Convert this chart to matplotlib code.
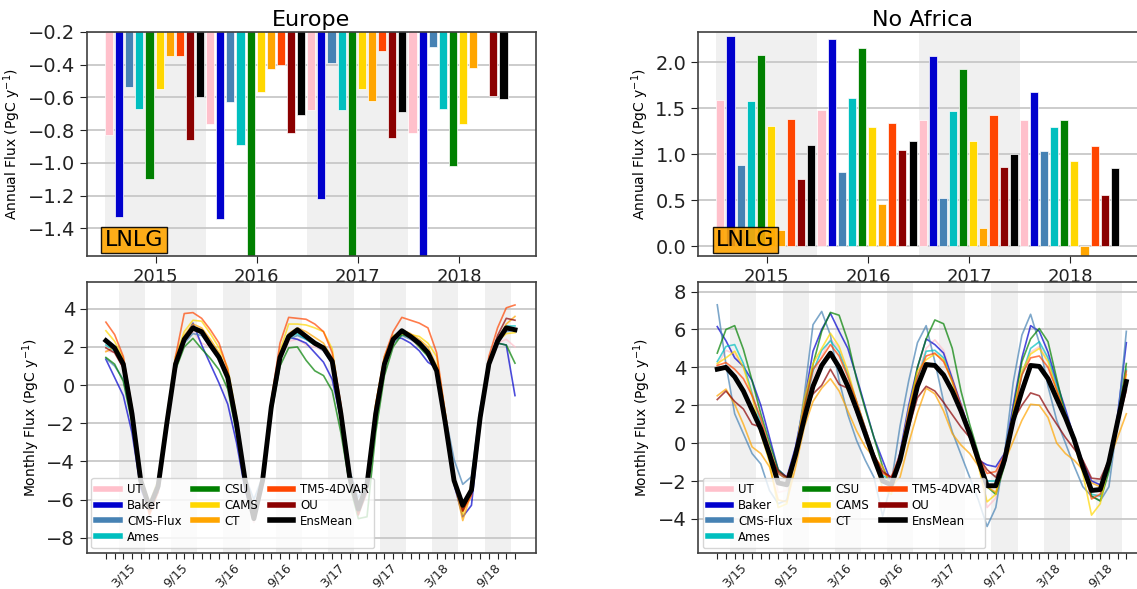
import matplotlib
matplotlib.use('Agg')
import matplotlib.pyplot as plt
import numpy as np

# models / colours
models = ['UT', 'Baker', 'CMS-Flux', 'Ames', 'CSU', 'CAMS', 'CT', 'TM5-4DVAR', 'OU', 'EnsMean']
colors = ['pink', 'mediumblue', 'steelblue', 'c', 'green', 'gold', 'orange',
          'orangered', 'darkred', 'black']
years = [2015, 2016, 2017, 2018]
month_labels = ['3/15', '9/15', '3/16', '9/16', '3/17', '9/17', '3/18', '9/18']

# annual fluxes (PgC/y), one value per year
eu_annual_ut = [-0.83, -0.76, -0.68, -0.82]
eu_annual_baker = [-1.33, -1.34, -1.22, -1.70]
eu_annual_cms = [-0.54, -0.63, -0.39, -0.29]
eu_annual_ames = [-0.67, -0.89, -0.68, -0.67]
eu_annual_csu = [-1.10, -1.65, -1.75, -1.02]
eu_annual_cams = [-0.55, -0.57, -0.55, -0.76]
eu_annual_ct = [-0.35, -0.43, -0.62, -0.42]
eu_annual_tm5 = [-0.35, -0.40, -0.32, -0.15]
eu_annual_ou = [-0.86, -0.82, -0.85, -0.59]
eu_annual_ens = [-0.60, -0.71, -0.69, -0.61]

na_annual_ut = [1.59, 1.48, 1.37, 1.37]
na_annual_baker = [2.28, 2.25, 2.07, 1.68]
na_annual_cms = [0.88, 0.81, 0.52, 1.03]
na_annual_ames = [1.58, 1.61, 1.47, 1.30]
na_annual_csu = [2.08, 2.15, 1.93, 1.37]
na_annual_cams = [1.31, 1.29, 1.14, 0.92]
na_annual_ct = [0.17, 0.46, 0.20, -0.15]
na_annual_tm5 = [1.38, 1.34, 1.43, 1.09]
na_annual_ou = [0.73, 1.04, 0.86, 0.56]
na_annual_ens = [1.10, 1.14, 1.00, 0.85]

# monthly fluxes (PgC/y), Jan 2015 - Dec 2018
eu_ut = [1.8, 1.7, 0.9, -1.7, -5.1, -6.6, -5.4, -2.0, 1.0, 2.3, 2.8, 2.2,
         2.0, 1.5, 0.4, -2.0, -5.2, -7.2, -5.1, -1.2, 1.4, 2.3, 2.4, 2.1,
         2.0, 1.8, 1.2, -1.6, -4.9, -6.6, -5.4, -1.6, 1.0, 2.3, 2.7, 2.4,
         2.0, 1.6, 0.7, -2.0, -5.0, -6.5, -5.6, -1.8, 1.0, 2.2, 2.4, 2.0]
eu_baker = [1.35, 0.4, -0.55, -2.5, -5.4, -6.6, -5.6, -2.2, 1.0, 2.4, 3.25, 2.1,
            1.1, 0.1, -1.0, -3.0, -5.5, -7.0, -5.0, -1.2, 1.4, 2.5, 2.4, 2.2,
            1.7, 1.2, 0.3, -1.8, -5.0, -6.6, -5.4, -1.5, 1.2, 2.5, 2.45, 2.2,
            1.8, 1.2, 0.9, -2.3, -5.2, -6.9, -6.3, -2.0, 1.0, 2.2, 2.1, -0.55]
eu_cms = [1.4, 1.0, 0.3, -1.8, -5.0, -6.2, -5.0, -1.8, 1.0, 2.2, 2.7, 2.6,
          2.0, 1.4, 0.4, -1.7, -4.8, -6.0, -4.8, -1.0, 1.4, 2.4, 2.6, 2.4,
          2.1, 1.8, 1.1, -1.4, -4.5, -5.9, -5.0, -1.3, 1.0, 2.2, 2.6, 2.4,
          2.1, 1.6, 0.8, -1.6, -3.9, -5.2, -4.8, -1.2, 1.0, 2.2, 2.8, 2.9]
eu_ames = [2.1, 1.8, 1.0, -1.6, -5.0, -6.5, -5.3, -1.9, 1.1, 2.4, 2.9, 2.7,
           2.1, 1.5, 0.4, -2.0, -5.0, -7.0, -5.0, -1.1, 1.5, 2.5, 2.7, 2.4,
           2.1, 1.9, 1.2, -1.5, -4.8, -6.5, -5.2, -1.5, 1.1, 2.4, 2.8, 2.5,
           2.1, 1.6, 0.7, -2.0, -5.0, -6.4, -5.5, -1.6, 1.1, 2.3, 3.1, 3.1]
eu_csu = [1.45, 1.1, 0.2, -2.0, -5.0, -6.3, -5.2, -2.2, 0.8, 2.0, 2.45, 1.9,
          1.4, 0.8, -0.2, -2.5, -5.2, -7.0, -5.0, -1.5, 1.0, 1.95, 2.0, 1.3,
          0.75, 0.5, -0.3, -2.5, -5.2, -7.0, -6.9, -2.5, 0.5, 2.0, 2.65, 2.5,
          2.0, 1.5, 0.9, -1.8, -5.0, -6.5, -5.5, -1.8, 1.0, 2.2, 2.1, 1.15]
eu_cams = [2.85, 2.3, 1.4, -1.2, -4.8, -6.2, -5.0, -1.6, 1.5, 2.8, 3.4, 3.35,
           2.7, 1.95, 0.9, -1.6, -4.8, -6.8, -4.8, -0.8, 1.8, 3.2, 3.2, 3.15,
           3.0, 2.8, 1.9, -1.2, -4.6, -6.3, -5.0, -1.0, 1.5, 2.6, 2.7, 2.65,
           2.55, 2.2, 1.5, -1.5, -4.8, -6.8, -5.2, -1.4, 1.3, 2.3, 2.7, 2.75]
eu_ct = [1.75, 2.0, 1.2, -1.4, -5.0, -6.6, -5.5, -1.8, 1.3, 2.6, 3.2, 3.0,
         2.4, 1.7, 0.6, -1.8, -5.0, -7.0, -5.0, -1.0, 1.6, 2.7, 3.0, 2.8,
         2.5, 2.2, 1.4, -1.3, -4.8, -6.6, -5.3, -1.3, 1.2, 2.5, 2.9, 2.7,
         2.4, 2.0, 1.0, -1.8, -5.0, -7.1, -5.6, -1.6, 1.2, 2.4, 3.2, 3.6]
eu_tm5 = [3.3, 2.65, 1.5, -1.2, -5.0, -6.8, -5.6, -2.0, 1.5, 3.75, 3.8, 3.5,
          2.9, 2.2, 0.8, -1.8, -5.0, -7.0, -5.0, -0.8, 2.2, 3.55, 3.5, 3.45,
          3.2, 2.8, 1.7, -1.0, -4.8, -6.8, -5.3, -1.0, 1.5, 2.8, 3.55, 3.4,
          3.25, 3.0, 1.7, -1.5, -4.8, -6.6, -5.8, -1.8, 1.5, 3.0, 4.05, 4.2]
eu_ou = [1.95, 1.7, 0.9, -1.6, -5.2, -6.5, -5.4, -2.0, 1.0, 2.3, 2.9, 2.7,
         2.0, 1.4, 0.3, -2.1, -5.1, -7.0, -5.0, -1.2, 1.4, 2.5, 2.8, 2.5,
         2.1, 1.9, 1.2, -1.6, -4.9, -6.8, -5.6, -1.6, 1.0, 2.3, 2.8, 2.5,
         2.1, 1.6, 0.7, -2.1, -5.1, -6.6, -5.5, -1.6, 1.1, 2.6, 3.5, 3.4]
eu_ens = [2.33, 1.95, 1.1, -1.5, -5.0, -6.4, -5.3, -2.0, 1.1, 2.4, 3.0, 2.8,
          2.1, 1.45, 0.4, -2.0, -5.0, -7.0, -5.0, -1.15, 1.45, 2.55, 2.9, 2.55,
          2.2, 1.95, 1.25, -1.5, -4.8, -6.5, -5.2, -1.5, 1.1, 2.4, 2.85, 2.55,
          2.2, 1.7, 0.75, -2.0, -5.0, -6.3, -5.5, -1.7, 1.1, 2.3, 3.0, 2.9]

na_ut = [4.1, 4.9, 4.7, 4.0, 2.7, 1.2, -0.5, -2.6, -2.5, -0.8, 1.6, 3.5,
         4.6, 5.5, 5.0, 3.7, 2.2, 0.8, -0.7, -2.0, -2.3, -0.9, 1.6, 3.6,
         5.0, 5.45, 4.9, 3.5, 2.0, 0.6, -1.0, -3.4, -2.9, -1.0, 1.5, 3.6,
         4.8, 5.1, 4.4, 3.0, 1.7, 0.3, -1.3, -2.8, -2.7, -1.2, 1.2, 3.4]
na_baker = [6.15, 5.4, 4.5, 4.05, 3.3, 2.0, 0.3, -1.4, -1.8, -0.2, 2.2, 4.85,
            6.0, 6.85, 5.9, 5.0, 3.5, 1.9, 0.3, -0.9, -2.1, -0.5, 2.0, 4.0,
            5.5, 5.2, 4.75, 3.4, 2.05, 0.65, -0.9, -1.15, -1.25, -0.55, 2.0, 4.5,
            6.2, 5.9, 4.8, 3.2, 1.8, 0.3, -1.0, -2.0, -2.2, -1.2, 1.5, 5.3]
na_cms = [7.3, 4.15, 1.55, 0.5, -0.55, -1.1, -2.5, -3.2, -3.0, -0.55, 2.55, 6.25,
          6.95, 5.7, 3.3, 1.5, 0.15, -0.9, -1.8, -3.85, -2.1, 0.9, 3.3, 5.3,
          6.2, 4.3, 2.2, 0.6, -0.6, -1.8, -3.0, -4.4, -3.4, -0.6, 3.2, 5.7,
          6.8, 5.3, 3.0, 1.2, 0.0, -1.2, -2.3, -2.8, -3.05, -2.3, 1.2, 5.9]
na_ames = [4.3, 5.1, 5.2, 4.2, 2.6, 1.0, -0.5, -1.6, -1.9, -0.5, 1.8, 3.8,
           4.9, 5.4, 4.8, 3.6, 2.2, 0.8, -0.6, -1.7, -2.0, -0.8, 1.5, 3.4,
           4.85, 4.9, 4.5, 3.3, 1.8, 0.5, -0.8, -2.0, -2.0, -0.8, 1.5, 3.6,
           5.0, 5.35, 4.5, 3.0, 1.6, 0.3, -1.2, -2.7, -2.8, -1.3, 1.2, 3.9]
na_csu = [4.75, 6.0, 6.2, 4.95, 3.3, 1.55, 0.0, -1.4, -1.85, -0.55, 1.9, 4.15,
          5.9, 6.9, 6.75, 5.4, 3.4, 1.8, 0.3, -1.25, -2.3, -1.0, 1.5, 4.0,
          5.5, 6.5, 6.3, 5.0, 2.75, 1.0, -0.55, -2.3, -2.7, -1.2, 1.7, 4.3,
          5.5, 6.05, 5.35, 3.4, 1.5, 0.1, -1.25, -2.8, -3.05, -1.5, 1.2, 4.2]
na_cams = [4.2, 4.5, 4.85, 4.0, 2.5, 0.5, -1.0, -3.4, -3.2, -0.5, 2.3, 4.2,
           5.0, 5.8, 5.1, 3.8, 2.2, 0.7, -0.8, -2.4, -2.7, -0.8, 1.8, 3.8,
           4.4, 4.7, 4.4, 3.2, 1.8, 0.3, -1.2, -3.1, -2.7, -0.8, 1.6, 3.8,
           4.7, 5.0, 4.3, 2.8, 1.4, 0.0, -1.6, -3.8, -3.2, -1.0, 1.2, 3.6]
na_ct = [2.5, 2.85, 2.05, 1.0, -0.2, -0.55, -1.25, -3.0, -3.1, -1.25, 0.85, 2.2,
         2.9, 3.4, 2.75, 1.7, 0.65, -0.2, -0.75, -1.25, -2.3, -1.8, 0.0, 1.6,
         2.9, 2.6, 1.7, 0.5, -0.1, -0.55, -1.2, -2.3, -2.6, -1.0, 0.1, 1.2,
         2.05, 2.0, 1.35, 0.0, -0.55, -0.9, -1.4, -2.1, -2.3, -0.9, 0.3, 1.55]
na_tm5 = [4.1, 4.25, 3.9, 3.4, 2.5, 1.3, -0.3, -1.6, -1.9, -0.4, 1.9, 3.9,
          4.5, 5.2, 4.6, 3.5, 2.2, 0.8, -0.6, -1.6, -1.8, -0.6, 1.6, 3.5,
          4.6, 4.75, 4.3, 3.3, 2.0, 0.6, -0.8, -1.6, -1.5, -0.6, 1.5, 3.6,
          4.5, 4.6, 4.0, 2.8, 1.5, 0.2, -1.2, -2.95, -2.7, -1.2, 1.2, 3.8]
na_ou = [2.3, 2.75, 2.2, 1.8, 1.0, 0.85, -0.55, -1.5, -1.8, -0.55, 1.5, 2.6,
         3.05, 3.9, 3.1, 2.9, 1.6, 0.4, -0.6, -1.5, -1.8, -0.9, 0.8, 2.4,
         3.0, 2.75, 2.15, 1.5, 0.85, 0.3, -0.75, -1.4, -1.8, -0.7, 1.2, 2.0,
         2.65, 2.5, 1.7, 1.0, 0.3, -0.3, -0.9, -1.85, -1.9, -0.9, 1.0, 2.8]
na_ens = [3.9, 4.0, 3.5, 2.75, 1.75, 0.75, -0.6, -2.1, -2.2, -0.6, 1.3, 3.0,
          4.1, 4.75, 4.0, 3.0, 1.8, 0.5, -0.8, -2.0, -2.2, -0.9, 1.1, 3.0,
          4.15, 4.1, 3.6, 2.75, 1.7, 0.5, -0.9, -2.25, -2.25, -0.9, 1.2, 2.75,
          4.1, 4.05, 3.4, 2.35, 1.35, 0.2, -1.25, -2.5, -2.45, -1.0, 1.15, 3.25]

eu_annual = [eu_annual_ut, eu_annual_baker, eu_annual_cms, eu_annual_ames, eu_annual_csu,
             eu_annual_cams, eu_annual_ct, eu_annual_tm5, eu_annual_ou, eu_annual_ens]
na_annual = [na_annual_ut, na_annual_baker, na_annual_cms, na_annual_ames, na_annual_csu,
             na_annual_cams, na_annual_ct, na_annual_tm5, na_annual_ou, na_annual_ens]
eu_monthly = [eu_ut, eu_baker, eu_cms, eu_ames, eu_csu, eu_cams, eu_ct, eu_tm5, eu_ou, eu_ens]
na_monthly = [na_ut, na_baker, na_cms, na_ames, na_csu, na_cams, na_ct, na_tm5, na_ou, na_ens]

SHADE = '#f0f0f0'
GRID = '#c4c4c4'


def style_axes(ax):
    ax.set_axisbelow(True)
    ax.yaxis.grid(True, color=GRID, linewidth=1.2)
    for spine in ax.spines.values():
        spine.set_edgecolor('#404040')
        spine.set_linewidth(1.2)
    ax.tick_params(axis='y', labelsize=14, length=5, colors='#222222')


def draw_annual(ax, values, title, ylim, yticks):
    yr = np.array(years, dtype=float)
    for y0 in (2014.5, 2016.5):
        ax.axvspan(y0, y0 + 1, color=SHADE, zorder=0, lw=0)
    for i, vals in enumerate(values):
        ax.bar(yr - 0.5 + 0.1 * i, vals, width=0.08, align='edge',
               color=colors[i], edgecolor='white', linewidth=0.5, zorder=2)
    ax.set_xlim(2014.32, 2018.76)
    ax.set_ylim(*ylim)
    ax.set_yticks(yticks)
    ax.set_xticks(years)
    ax.tick_params(axis='x', labelsize=13, length=5, colors='#222222')
    ax.set_title(title, fontsize=16, pad=4)
    ax.set_ylabel('Annual Flux (PgC y$^{-1}$)', fontsize=10, labelpad=3)
    style_axes(ax)
    ax.text(0.04, 0.045, 'LNLG', transform=ax.transAxes, fontsize=16, zorder=5,
            bbox=dict(boxstyle='square,pad=0.15', facecolor='orange', alpha=0.9,
                      edgecolor='black'))


def draw_monthly(ax, values, ylim, yticks):
    months = np.arange(48)
    for k in range(4):
        ax.axvspan(12 * k + 1.5, 12 * k + 4.5, color=SHADE, zorder=0, lw=0)
        ax.axvspan(12 * k + 7.5, 12 * k + 10.5, color=SHADE, zorder=0, lw=0)
    for i, vals in enumerate(values):
        if models[i] == 'EnsMean':
            ax.plot(months, vals, color='black', lw=3.5, label=models[i], zorder=4)
        else:
            ax.plot(months, vals, color=colors[i], lw=1.2, alpha=0.7,
                    label=models[i], zorder=3)
    ax.set_xlim(-2.2, 49.4)
    ax.set_ylim(*ylim)
    ax.set_yticks(yticks)
    ax.set_xticks(months)
    lbls = [''] * 48
    for j, lab in enumerate(month_labels):
        lbls[2 + 6 * j] = lab
    ax.set_xticklabels(lbls, rotation=45, fontsize=9)
    ax.tick_params(axis='x', length=4, pad=2, colors='#222222')
    ax.set_ylabel('Monthly Flux (PgC y$^{-1}$)', fontsize=10, labelpad=3)
    style_axes(ax)
    leg = ax.legend(loc='lower left', ncol=3, fontsize=8.5, handlelength=2.0,
                    handletextpad=0.6, columnspacing=1.0, labelspacing=0.25,
                    borderaxespad=0.4)
    for line in leg.get_lines():
        line.set_linewidth(4)
        line.set_alpha(1)


fig = plt.figure(figsize=(11.37, 5.89), dpi=100)

ax_tl = fig.add_axes([0.0763, 0.565, 0.395, 0.381])
ax_bl = fig.add_axes([0.0763, 0.0611, 0.395, 0.460])
ax_tr = fig.add_axes([0.614, 0.565, 0.395, 0.381])
ax_br = fig.add_axes([0.614, 0.0611, 0.395, 0.460])

draw_annual(ax_tl, eu_annual, 'Europe', (-1.57, -0.2), np.arange(-1.4, -0.19, 0.2))
draw_annual(ax_tr, na_annual, 'No Africa', (-0.11, 2.33), [0.0, 0.5, 1.0, 1.5, 2.0])
draw_monthly(ax_bl, eu_monthly, (-8.8, 5.4), [-8, -6, -4, -2, 0, 2, 4])
draw_monthly(ax_br, na_monthly, (-5.8, 8.5), [-4, -2, 0, 2, 4, 6, 8])

fig.savefig('out.png', dpi=100)
